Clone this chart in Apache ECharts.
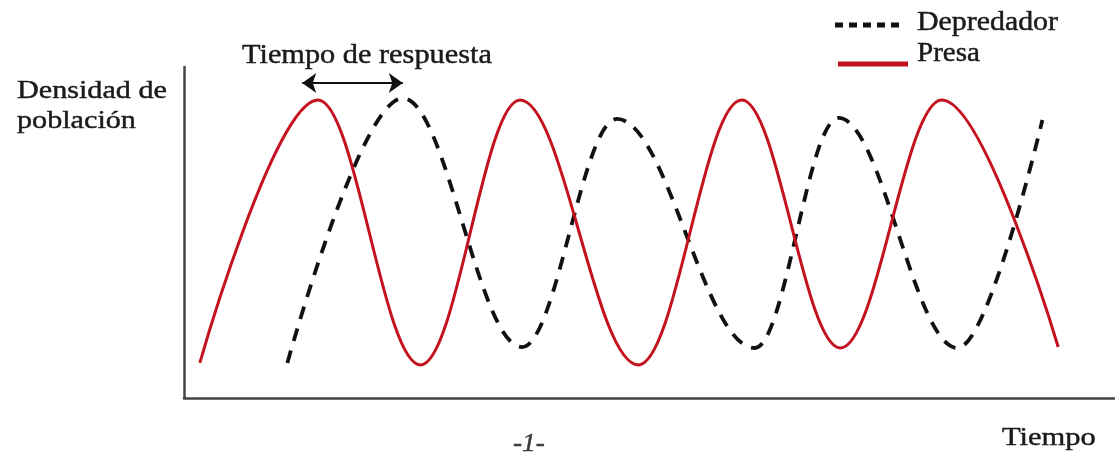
<!DOCTYPE html>
<html>
<head>
<meta charset="utf-8">
<title>Depredador y presa</title>
<script src="https://cdn.jsdelivr.net/npm/echarts@6/dist/echarts.min.js"></script>
<style>
  html, body { margin: 0; padding: 0; background: #ffffff; }
  #chart { width: 1115px; height: 457px; }
</style>
</head>
<body>
<div id="chart"></div>
<script>
// Prey population (Presa): start, successive peaks and troughs, end (time and density on 0–100 scales)
const preyTime    = [1.7, 14.4, 25.4, 36.1, 48.8, 59.9, 70.5, 81.4, 93.9];
const preyDensity = [10.6, 90.0, 10.0, 90.0, 10.0, 90.0, 15.1, 90.0, 15.4];

// Predator population (Depredador): start, peaks and troughs, end
const predatorTime    = [11.1, 23.5, 36.3, 46.5, 61.3, 70.3, 83.1, 92.2];
const predatorDensity = [10.6, 90.6, 15.4, 84.3, 15.1, 84.6, 15.1, 84.0];

// Response-time span drawn as a double arrow above the first peaks
const responseSpan = [12.7, 23.5];
const responseLevel = 95.2;

const seriesNames = ['Depredador', 'Presa'];
const axisNames = ['Densidad de', 'población', 'Tiempo'];
const annotationText = 'Tiempo de respuesta';
const pageMark = '-1-';

const RED = '#c4121f';
const BLACK = '#111111';
const SERIF = '"Liberation Serif", "Times New Roman", serif';
const TEXT = '#1a1a1a';

const zip = (xs, ys) => xs.map((x, i) => [x, ys[i]]);

const chart = echarts.init(document.getElementById('chart'), null, { renderer: 'canvas' });

function label(text, x, y, size, sx, opts) {
  opts = opts || {};
  return {
    type: 'text', x: x, y: y, scaleX: sx, silent: true,
    style: {
      text: text, font: (opts.italic ? 'italic ' : '') + size + 'px ' + SERIF,
      fill: opts.fill || TEXT, stroke: opts.fill || TEXT, lineWidth: 0.45,
      textAlign: 'left', verticalAlign: 'middle'
    }
  };
}

chart.setOption({
  animation: false,
  backgroundColor: '#ffffff',
  grid: { left: 184, right: 0, top: 67, bottom: 59 },
  xAxis: {
    type: 'value', min: 0, max: 100,
    axisLine: { show: true, lineStyle: { color: '#444', width: 2.5 } },
    axisTick: { show: false }, axisLabel: { show: false }, splitLine: { show: false }
  },
  yAxis: {
    type: 'value', min: 0, max: 100,
    axisLine: { show: true, lineStyle: { color: '#444', width: 2.5 } },
    axisTick: { show: false }, axisLabel: { show: false }, splitLine: { show: false }
  },
  series: [
    {
      name: seriesNames[0], type: 'line', data: zip(predatorTime, predatorDensity),
      smooth: 0.363, smoothMonotone: 'x', showSymbol: false, z: 2,
      lineStyle: { color: BLACK, width: 3.8, type: [13, 10], cap: 'butt' }
    },
    {
      name: seriesNames[1], type: 'line', data: zip(preyTime, preyDensity),
      smooth: 0.363, smoothMonotone: 'x', showSymbol: false, z: 3,
      lineStyle: { color: RED, width: 3 },
      markLine: {
        silent: true, symbol: ['arrow', 'arrow'], symbolSize: [15, 14],
        label: { show: false },
        lineStyle: { color: BLACK, width: 2, type: 'solid' },
        data: [[{ coord: [responseSpan[0], responseLevel] }, { coord: [responseSpan[1], responseLevel] }]]
      }
    }
  ],
  graphic: [
    label(axisNames[0], 17, 91, 26, 1.16),
    label(axisNames[1], 17, 121, 26, 1.16),
    label(axisNames[2], 1002, 438.5, 26, 1.174),
    label(annotationText, 242, 56, 27, 1.123),
    label(pageMark, 513, 444, 26, 1.05, { italic: true, fill: '#3a3a3a' }),
    // legend samples and names
    { type: 'line', silent: true, shape: { x1: 835, y1: 25, x2: 900, y2: 25 },
      style: { stroke: BLACK, lineWidth: 5, lineDash: [8, 6] } },
    label(seriesNames[0], 917, 22.5, 27, 1.106),
    { type: 'line', silent: true, shape: { x1: 838, y1: 64, x2: 908, y2: 64 },
      style: { stroke: RED, lineWidth: 5 } },
    label(seriesNames[1], 917, 53.5, 27, 1.077)
  ]
});
</script>
</body>
</html>
